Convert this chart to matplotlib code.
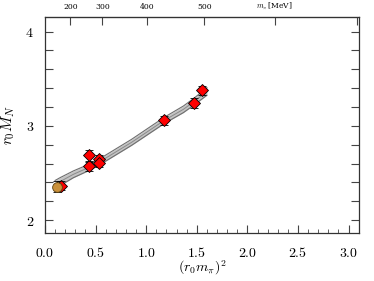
import numpy as np
import matplotlib
matplotlib.use('Agg')
import matplotlib.pyplot as plt
from matplotlib.ticker import MultipleLocator, FuncFormatter

plt.rcParams['mathtext.fontset'] = 'cm'
plt.rcParams['font.family'] = 'serif'
plt.rcParams['font.serif'] = ['DejaVu Serif']

# lattice points (red diamonds)
x_red = [0.158, 0.435, 0.435, 0.537, 0.537, 1.179, 1.472, 1.555]
y_red = [2.364, 2.573, 2.687, 2.644, 2.609, 3.058, 3.245, 3.377]
e_red = [0.050, 0.048, 0.057, 0.045, 0.045, 0.050, 0.052, 0.048]

# physical point (orange circle)
x_phys = [0.115]
y_phys = [2.353]
e_phys = [0.060]

# fit band (centre and half width)
x_band = [0.10, 0.148, 0.280, 0.435, 0.537, 0.856, 1.179, 1.367, 1.470, 1.600]
y_band = [2.375, 2.407, 2.485, 2.559, 2.616, 2.825, 3.058, 3.175, 3.255, 3.365]
w_band = [0.045, 0.042, 0.036, 0.033, 0.032, 0.032, 0.033, 0.035, 0.036, 0.040]

# top axis ticks in MeV
mpi_ticks = [200, 300, 400, 500, 600, 700]
mpi_labels = ['200', '300', '400', '500', r'$m_\pi\,$[MeV]', '']
r0 = 0.4953  # fm
hbarc = 197.327

fig = plt.figure(figsize=(3.74, 2.81), dpi=100)
ax = fig.add_axes([0.1203, 0.1698, 0.8404, 0.7708])

xb = np.array(x_band)
yb = np.array(y_band)
wb = np.array(w_band)
ax.fill_between(xb, yb - wb, yb + wb, color='#c4c4c4', lw=0, zorder=1)
ax.plot(xb, yb - wb, color='#6e6e6e', lw=0.8, zorder=2)
ax.plot(xb, yb + wb, color='#6e6e6e', lw=0.8, zorder=2)
ax.plot(xb, yb, color='#8a8a8a', lw=0.7, zorder=2)

ax.errorbar(x_red, y_red, yerr=e_red, fmt='D', color='black', mfc='red', mec='black',
            ms=6, mew=0.6, elinewidth=0.8, capsize=2.8, capthick=0.8, zorder=3)
ax.errorbar(x_phys, y_phys, yerr=e_phys, fmt='o', color='black', mfc='#c9903a', mec='#5a4010',
            ms=7, mew=0.6, elinewidth=0.8, capsize=2.8, capthick=0.8, zorder=4)

ax.set_xlim(0.0, 3.106)
ax.set_ylim(1.859, 4.159)
ax.xaxis.set_major_locator(MultipleLocator(0.5))
ax.xaxis.set_minor_locator(MultipleLocator(0.1))
ax.yaxis.set_major_locator(MultipleLocator(1))
ax.yaxis.set_minor_locator(MultipleLocator(0.2))
ax.xaxis.set_major_formatter(FuncFormatter(lambda v, p: r'$%.1f$' % v))
ax.yaxis.set_major_formatter(FuncFormatter(lambda v, p: r'$%d$' % round(v)))

ax.tick_params(axis='x', which='major', direction='in', length=6, width=0.8, top=False,
               color='#444444', labelsize=10, pad=9)
ax.tick_params(axis='x', which='minor', direction='in', length=3, width=0.6, top=False,
               color='#444444')
ax.tick_params(axis='y', which='both', direction='in', length=6, width=0.8, right=True,
               color='#444444', labelsize=10, pad=8)
for s in ax.spines.values():
    s.set_color('#333333')
    s.set_linewidth(0.9)

ax.set_xlabel(r'$(r_0 m_\pi)^2$', fontsize=10)
ax.xaxis.set_label_coords(0.5, -0.118)
ax.set_ylabel(r'$r_0 M_N$', fontsize=11)
ax.yaxis.set_label_coords(-0.09, 0.5)


def to_mpi(x):
    return np.sqrt(np.maximum(x, 1e-9)) * hbarc / r0


def to_x(m):
    return (r0 * np.asarray(m) / hbarc) ** 2


sec = ax.secondary_xaxis('top', functions=(to_mpi, to_x))
sec.set_xticks(mpi_ticks)
sec.set_xticklabels(mpi_labels)
sec.tick_params(direction='in', length=6, width=0.8, color='#444444', labelsize=5.5, pad=4)
sec.xaxis.set_minor_locator(plt.NullLocator())
sec.spines['top'].set_color('#333333')

fig.savefig('out.png', dpi=100)
